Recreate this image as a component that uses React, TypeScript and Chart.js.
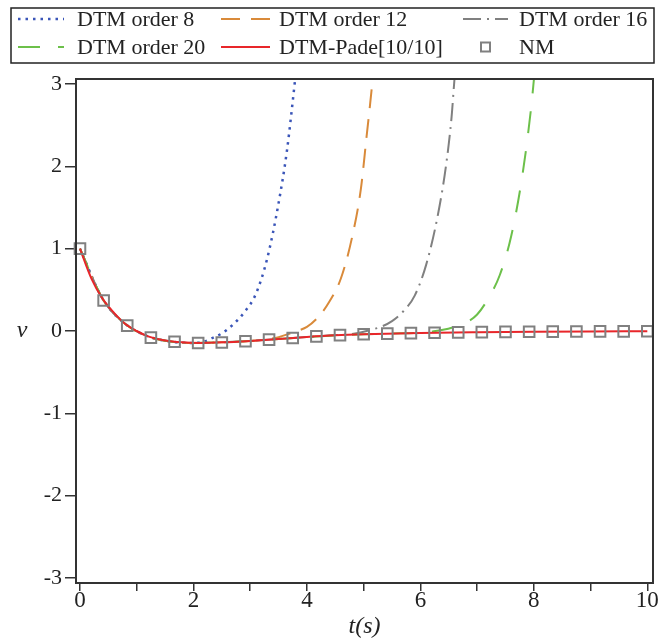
import React, { useEffect, useRef } from 'react';
import { Chart, registerables } from 'chart.js';

Chart.register(...registerables);

// ---- data ----
const seriesLabels = ['DTM order 8', 'DTM order 12', 'DTM order 16', 'DTM order 20', 'DTM-Pade[10/10]', 'NM'];

const padeT = [0, 0.2, 0.4, 0.6, 0.8, 1.0, 1.2, 1.5, 1.8, 2.1, 2.5, 3, 3.5, 4, 4.5, 5, 6, 7, 8, 9, 10];
const padeV = [1.0, 0.64, 0.39, 0.22, 0.085, 0.0, -0.065, -0.115, -0.138, -0.145, -0.138, -0.12, -0.097, -0.073, -0.053, -0.04, -0.024, -0.015, -0.009, -0.005, -0.003];

const dtm8T = [0, 0.4, 0.8, 1.2, 1.6, 2.0, 2.2, 2.35, 2.5, 2.7, 2.9, 3.1, 3.3, 3.5, 3.65, 3.8, 3.9];
const dtm8V = [1.0, 0.39, 0.085, -0.065, -0.128, -0.145, -0.125, -0.08, -0.03, 0.08, 0.23, 0.45, 0.88, 1.55, 2.2, 3.1, 3.7];

const dtm12T = [0, 0.4, 0.8, 1.2, 1.6, 2.0, 2.5, 3.0, 3.3, 3.5, 3.7, 3.85, 4.0, 4.2, 4.4, 4.6, 4.8, 4.95, 5.05, 5.15, 5.25];
const dtm12V = [1.0, 0.39, 0.085, -0.065, -0.128, -0.145, -0.138, -0.12, -0.1, -0.075, -0.03, 0.005, 0.05, 0.17, 0.36, 0.64, 1.15, 1.72, 2.35, 3.0, 3.8];

const dtm16T = [0, 0.4, 0.8, 1.2, 1.6, 2.0, 2.5, 3.0, 3.5, 4.0, 4.5, 4.9, 5.1, 5.3, 5.5, 5.7, 5.9, 6.1, 6.3, 6.45, 6.55, 6.6, 6.7];
const dtm16V = [1.0, 0.39, 0.085, -0.065, -0.128, -0.145, -0.138, -0.12, -0.097, -0.073, -0.05, -0.025, 0.01, 0.05, 0.12, 0.24, 0.43, 0.8, 1.38, 2.0, 2.6, 3.05, 3.8];

const dtm20T = [0, 0.4, 0.8, 1.2, 1.6, 2.0, 2.5, 3.0, 3.5, 4.0, 4.5, 5.0, 5.5, 6.0, 6.2, 6.4, 6.6, 6.8, 7.0, 7.2, 7.4, 7.6, 7.8, 7.95, 8.0, 8.1];
const dtm20V = [1.0, 0.39, 0.085, -0.065, -0.128, -0.145, -0.138, -0.12, -0.097, -0.073, -0.053, -0.04, -0.031, -0.02, -0.005, 0.015, 0.05, 0.1, 0.2, 0.4, 0.68, 1.15, 1.9, 2.7, 3.05, 3.8];

const nmT = [0, 0.417, 0.833, 1.25, 1.667, 2.083, 2.5, 2.917, 3.333, 3.75, 4.167, 4.583, 5.0, 5.417, 5.833, 6.25, 6.667, 7.083, 7.5, 7.917, 8.333, 8.75, 9.167, 9.583, 10];
const nmV = [1.0, 0.37, 0.065, -0.08, -0.13, -0.145, -0.14, -0.125, -0.105, -0.085, -0.065, -0.05, -0.04, -0.032, -0.026, -0.021, -0.017, -0.014, -0.011, -0.009, -0.007, -0.006, -0.005, -0.004, -0.003];

const xTickValues = [0, 1, 2, 3, 4, 5, 6, 7, 8, 9, 10];
const xTickLabels = ['0', '', '2', '', '4', '', '6', '', '8', '', '10'];
const yTickValues = [-3, -2, -1, 0, 1, 2, 3];
const yTickLabels = ['-3', '-2', '-1', '0', '1', '2', '3'];
const xTitle = 't(s)';
const yTitle = 'v';

const zip = (t: number[], v: number[]) => t.map((x, i) => ({ x, y: v[i] }));

const SERIF = '"Liberation Serif", "Times New Roman", serif';

const legendAndFrame = {
  id: 'legendAndFrame',
  afterDraw(chart: any) {
    const { ctx, chartArea: a } = chart;
    ctx.save();
    // plot frame
    ctx.setLineDash([]);
    ctx.strokeStyle = '#333';
    ctx.lineWidth = 2;
    ctx.strokeRect(a.left, a.top, a.right - a.left, a.bottom - a.top);

    // y title (upright)
    ctx.fillStyle = '#222';
    ctx.font = 'italic 24px ' + SERIF;
    ctx.textAlign = 'center';
    ctx.textBaseline = 'middle';
    ctx.fillText(yTitle, 22, chart.scales.y.getPixelForValue(0));

    // legend box
    ctx.strokeStyle = '#222';
    ctx.lineWidth = 1.5;
    ctx.strokeRect(11, 8, 643, 55);

    const cols = [
      { sx: 18, ex: 64, tx: 77 },
      { sx: 221, ex: 270, tx: 279 },
      { sx: 463, ex: 508, tx: 519 },
    ];
    const rowsY = [19, 47];
    ctx.font = '22px ' + SERIF;
    ctx.textAlign = 'left';
    ctx.textBaseline = 'middle';
    chart.data.datasets.forEach((ds: any, i: number) => {
      const c = cols[i % 3];
      const cy = rowsY[Math.floor(i / 3)];
      ctx.save();
      if (ds.showLine === false) {
        ctx.setLineDash([]);
        ctx.strokeStyle = ds.pointBorderColor;
        ctx.lineWidth = 2;
        const cx = (c.sx + c.ex) / 2;
        ctx.strokeRect(cx - 4.5, cy - 4.5, 9, 9);
      } else {
        ctx.setLineDash(ds.borderDash || []);
        ctx.strokeStyle = ds.borderColor;
        ctx.lineWidth = ds.borderWidth;
        ctx.beginPath();
        ctx.moveTo(c.sx, cy);
        ctx.lineTo(c.ex, cy);
        ctx.stroke();
      }
      ctx.restore();
      ctx.fillStyle = '#222';
      ctx.fillText(ds.label, c.tx, cy + 1);
    });
    ctx.restore();
  },
};

export default function App() {
  const ref = useRef<HTMLCanvasElement | null>(null);

  useEffect(() => {
    document.body.style.margin = '0';
    const canvas = ref.current;
    if (!canvas) return;
    const lineBase = {
      pointRadius: 0,
      fill: false,
      cubicInterpolationMode: 'monotone' as const,
      borderCapStyle: 'butt' as const,
    };
    const chart = new Chart(canvas, {
      type: 'line',
      data: {
        datasets: [
          { ...lineBase, label: seriesLabels[0], data: zip(dtm8T, dtm8V), borderColor: '#3a55b8', borderWidth: 2.5, borderDash: [2.5, 5], order: 5 },
          { ...lineBase, label: seriesLabels[1], data: zip(dtm12T, dtm12V), borderColor: '#d98a3a', borderWidth: 2, borderDash: [19, 11], order: 4 },
          { ...lineBase, label: seriesLabels[2], data: zip(dtm16T, dtm16V), borderColor: '#808080', borderWidth: 2, borderDash: [18, 6, 2, 6], order: 3 },
          { ...lineBase, label: seriesLabels[3], data: zip(dtm20T, dtm20V), borderColor: '#6cc04a', borderWidth: 2, borderDash: [22, 18], order: 2 },
          { ...lineBase, label: seriesLabels[4], data: zip(padeT, padeV), borderColor: '#e8262a', borderWidth: 2, order: 1 },
          {
            label: seriesLabels[5],
            data: zip(nmT, nmV),
            showLine: false,
            pointStyle: 'rect',
            pointRadius: 7.5,
            pointBorderWidth: 2,
            pointBorderColor: '#808080',
            pointBackgroundColor: 'rgba(0,0,0,0)',
            borderColor: '#808080',
            backgroundColor: 'rgba(0,0,0,0)',
            clip: false,
            order: 0,
          } as any,
        ],
      },
      options: {
        responsive: false,
        animation: false,
        events: [],
        layout: { padding: { top: 79, right: 16, left: 0, bottom: 0 } },
        plugins: { legend: { display: false }, tooltip: { enabled: false } },
        scales: {
          x: {
            type: 'linear',
            min: -0.07,
            max: 10.1,
            afterFit: (s: any) => { s.height = 55; },
            afterBuildTicks: (s: any) => { s.ticks = xTickValues.map((v) => ({ value: v })); },
            ticks: {
              autoSkip: false,
              maxRotation: 0,
              padding: -2,
              color: '#222',
              font: { family: SERIF, size: 23, lineHeight: 1 },
              callback: (_v: any, i: number) => xTickLabels[i],
            },
            grid: { drawOnChartArea: false, drawTicks: true, tickLength: 8, color: '#333', lineWidth: 1.5 },
            border: { display: true, color: '#333', width: 2 },
            title: {
              display: true,
              text: xTitle,
              color: '#222',
              font: { family: SERIF, size: 24, style: 'italic' },
              padding: { top: 0, bottom: -3 },
            },
          },
          y: {
            type: 'linear',
            min: -3.06,
            max: 3.06,
            afterFit: (s: any) => { s.width = 76; },
            afterBuildTicks: (s: any) => { s.ticks = yTickValues.map((v) => ({ value: v })); },
            ticks: {
              autoSkip: false,
              padding: 3,
              color: '#222',
              font: { family: SERIF, size: 22 },
              callback: (_v: any, i: number) => yTickLabels[i],
            },
            grid: { drawOnChartArea: false, drawTicks: true, tickLength: 11, color: '#333', lineWidth: 1.5 },
            border: { display: true, color: '#333', width: 2 },
          },
        },
      },
      plugins: [legendAndFrame],
    } as any);
    return () => chart.destroy();
  }, []);

  return (
    <canvas
      ref={ref}
      width={669}
      height={638}
      style={{ display: 'block', width: 669, height: 638 }}
    />
  );
}
